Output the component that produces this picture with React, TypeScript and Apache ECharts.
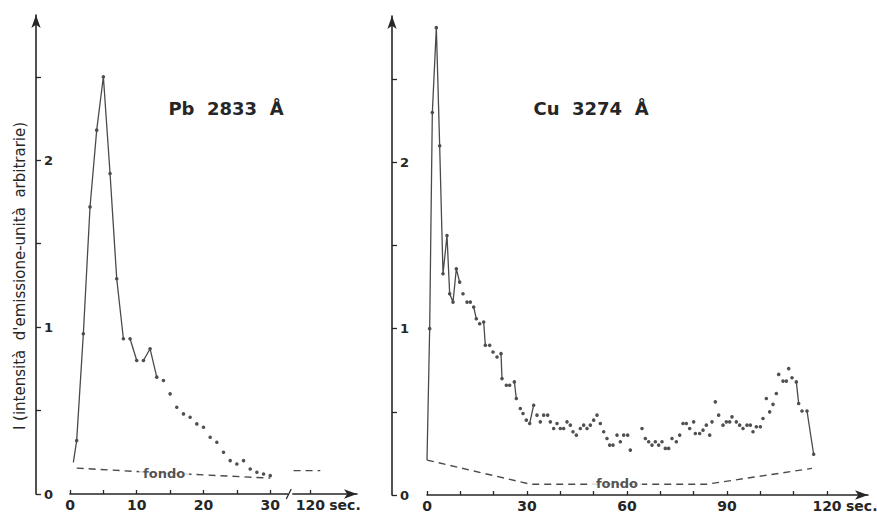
import React, { useEffect, useRef } from "react";
import * as echarts from "echarts";

// ---------- Pb 2833 Å (left panel) ----------
const pbTime = [0.5, 1, 2, 3, 4, 5, 6, 7, 8, 9, 10, 11, 12, 13, 14, 15, 16, 17, 18, 19, 20, 21, 22, 23, 24, 25, 26, 27, 28, 29, 30];
const pbIntensity = [0.19, 0.32, 0.96, 1.72, 2.18, 2.5, 1.92, 1.29, 0.93, 0.93, 0.8, 0.8, 0.87, 0.7, 0.68, 0.6, 0.52, 0.48, 0.46, 0.42, 0.4, 0.34, 0.31, 0.25, 0.2, 0.18, 0.2, 0.15, 0.13, 0.12, 0.11];
const pbJoined = [[0.5, 8], [9, 10], [11, 13]];
const pbFondoTime = [1, 12, 30];
const pbFondoValue = [0.155, 0.13, 0.095];
const pbFondoLateTime = [117.5, 121.5];
const pbFondoLateValue = [0.14, 0.14];
const pbTickSeconds = [0, 5, 10, 15, 20, 25, 30, 120];
const pbLabelSeconds = [0, 10, 20, 30, 120];

// ---------- Cu 3274 Å (right panel) ----------
const cuTime = [0, 0.8, 1.6, 2.8, 3.8, 4.8, 6, 6.8, 7.8, 8.8, 9.8, 10.8,
  12, 13, 14, 14.8, 15.8, 17, 17.5, 18.8, 19.8, 21,
  22.2, 22.5, 23.8, 24.8, 26.2, 26.8, 28, 28.8, 29.8, 30.8,
  32, 33, 34, 35, 36.2, 37, 38, 39, 40, 41,
  42, 43, 43.8, 44.8, 46, 47, 48, 49, 50, 51,
  52, 53, 54, 54.8, 55.8, 57, 58, 59, 60.2, 61,
  64.5, 65.5, 66.5, 67.5, 68.5, 69.5, 70.5, 71.5, 72.5, 73.5,
  74.8, 75.8, 76.8, 77.8, 78.8, 80, 80.5, 81.8, 82.8, 83.8,
  84.8, 85.5, 86.5, 87.5, 88.8, 89.8, 90.8, 91.5, 92.8, 93.8,
  94.8, 96, 97, 97.8, 98.8, 100, 100.8, 101.8, 102.8, 103.8,
  104.8, 105.5, 106.8, 107.8, 108.5, 109.5, 110.8, 111.5, 112.5, 114,
  116];
const cuIntensity = [0.21, 1.0, 2.3, 2.81, 2.1, 1.33, 1.56, 1.21, 1.16, 1.36, 1.28, 1.21,
  1.16, 1.16, 1.13, 1.06, 1.03, 1.04, 0.9, 0.9, 0.86, 0.83,
  0.85, 0.7, 0.66, 0.66, 0.68, 0.58, 0.52, 0.49, 0.45, 0.43,
  0.54, 0.48, 0.44, 0.48, 0.48, 0.44, 0.4, 0.43, 0.4, 0.4,
  0.44, 0.42, 0.38, 0.36, 0.4, 0.42, 0.4, 0.42, 0.45, 0.48,
  0.43, 0.38, 0.34, 0.3, 0.3, 0.36, 0.32, 0.36, 0.36, 0.27,
  0.4, 0.34, 0.32, 0.3, 0.32, 0.3, 0.32, 0.28, 0.28, 0.34,
  0.32, 0.36, 0.43, 0.43, 0.4, 0.44, 0.37, 0.37, 0.39, 0.42,
  0.36, 0.44, 0.56, 0.48, 0.42, 0.44, 0.44, 0.47, 0.44, 0.42,
  0.4, 0.42, 0.42, 0.38, 0.41, 0.41, 0.46, 0.58, 0.5, 0.545,
  0.61, 0.725, 0.685, 0.685, 0.76, 0.705, 0.68, 0.55, 0.505, 0.505,
  0.245];
const cuJoined = [[0, 9.8], [14, 14.8], [17, 17.5], [22.2, 22.5], [26.2, 26.8], [30.8, 32], [110.8, 111.5], [114, 116]];
const cuFondoTime = [0, 31, 84, 115.5];
const cuFondoValue = [0.21, 0.065, 0.065, 0.16];
const cuTickSeconds = [0, 10, 20, 30, 40, 50, 60, 70, 80, 90, 100, 110, 120];
const cuLabelSeconds = [0, 30, 60, 90, 120];

const yTicks = [0, 0.5, 1, 1.5, 2, 2.5];
const yLabels = [0, 1, 2];

// Left time axis is broken after 30 s: 120 s is drawn at axis position 36.
const BREAK_SHIFT = 84;
const leftPos = (t: number) => (t > 31 ? t - BREAK_SHIFT : t);
const leftSec = (p: number) => (p > 31 ? p + BREAK_SHIFT : p);

const INK = "#262626";
const LINE = "#4a4a4a";
const FONT = "'DejaVu Sans', 'Liberation Sans', sans-serif";

function pairs(ts: number[], vs: number[], map = (t: number) => t) {
  return ts.map((t, i) => [map(t), vs[i]]);
}

function joinedSeries(ts: number[], vs: number[], ranges: number[][], gi: number, map = (t: number) => t) {
  return ranges.map(([a, b]) => ({
    type: "line",
    xAxisIndex: gi,
    yAxisIndex: gi,
    showSymbol: false,
    silent: true,
    lineStyle: { color: LINE, width: 1.3 },
    data: pairs(ts, vs, map).filter((_, i) => ts[i] >= a && ts[i] <= b),
  }));
}

function fondoSeries(data: number[][], gi: number) {
  return {
    type: "line",
    xAxisIndex: gi,
    yAxisIndex: gi,
    showSymbol: false,
    silent: true,
    lineStyle: { color: LINE, width: 1.4, type: [7, 5] },
    data,
  };
}

function xAxisCfg(gi: number, max: number, ticks: number[], labels: number[], fmt: (v: number) => string) {
  return {
    type: "value",
    gridIndex: gi,
    min: 0,
    max,
    axisLine: { show: true, onZero: false, symbol: ["none", "arrow"], symbolSize: [7, 13], lineStyle: { color: INK, width: 1.6 } },
    axisTick: { show: true, inside: true, length: 4, customValues: ticks, lineStyle: { color: INK, width: 1.3 } },
    axisLabel: { show: true, customValues: labels, formatter: fmt, margin: 4, color: INK, fontSize: 14, fontWeight: "bold", fontFamily: FONT },
    splitLine: { show: false },
  };
}

function yAxisCfg(gi: number, max: number, offset: number) {
  return {
    type: "value",
    gridIndex: gi,
    min: 0,
    max,
    offset,
    axisLine: { show: true, onZero: false, symbol: ["none", "arrow"], symbolSize: [7, 13], lineStyle: { color: INK, width: 1.6 } },
    axisTick: { show: true, inside: true, length: 5, customValues: yTicks, lineStyle: { color: INK, width: 1.3 } },
    axisLabel: { show: true, inside: true, customValues: yLabels, margin: 8, color: INK, fontSize: 13, fontWeight: "bold", fontFamily: FONT },
    splitLine: { show: false },
  };
}

export default function App() {
  const ref = useRef<HTMLDivElement>(null);

  useEffect(() => {
    if (!ref.current) return;
    const chart = echarts.init(ref.current, null, { renderer: "svg" });

    const pbPoints = pairs(pbTime, pbIntensity).filter((p) => p[0] >= 1);
    const cuPoints = pairs(cuTime, cuIntensity).filter((p) => p[0] > 0);

    const fondoLabel = (gi: number, pos: number[]) => ({
      type: "scatter",
      xAxisIndex: gi,
      yAxisIndex: gi,
      symbolSize: 0,
      silent: true,
      z: 5,
      label: {
        show: true,
        position: "inside",
        formatter: "fondo",
        color: INK,
        fontSize: 13,
        fontWeight: "bold",
        fontFamily: FONT,
        backgroundColor: "#ffffff",
        padding: [0, 4],
      },
      data: [pos],
    });

    chart.setOption({
      animation: false,
      backgroundColor: "#ffffff",
      grid: [
        { left: 70, top: 15, width: 287, bottom: 21 },
        { left: 427, top: 16, width: 441, bottom: 20 },
      ],
      xAxis: [
        xAxisCfg(0, 43, pbTickSeconds.map(leftPos), pbLabelSeconds.map(leftPos), (v: number) => String(Math.round(leftSec(v)))),
        xAxisCfg(1, 132.3, cuTickSeconds, cuLabelSeconds, (v: number) => String(v)),
      ],
      yAxis: [yAxisCfg(0, 2.87, 34), yAxisCfg(1, 2.88, 35)],
      series: [
        ...joinedSeries(pbTime, pbIntensity, pbJoined, 0),
        {
          type: "scatter", xAxisIndex: 0, yAxisIndex: 0, symbol: "circle", symbolSize: 3.6, silent: true,
          itemStyle: { color: INK }, data: pbPoints,
        },
        fondoSeries(pairs(pbFondoTime, pbFondoValue), 0),
        fondoSeries(pairs(pbFondoLateTime, pbFondoLateValue, leftPos), 0),
        fondoLabel(0, [14.1, 0.12]),
        ...joinedSeries(cuTime, cuIntensity, cuJoined, 1),
        {
          type: "scatter", xAxisIndex: 1, yAxisIndex: 1, symbol: "circle", symbolSize: 3.6, silent: true,
          itemStyle: { color: INK }, data: cuPoints,
        },
        fondoSeries(pairs(cuFondoTime, cuFondoValue), 1),
        fondoLabel(1, [57, 0.07]),
      ],
    });

    // annotations positioned through the axes
    const brk = chart.convertToPixel({ xAxisIndex: 0, yAxisIndex: 0 }, [33, 0]) as number[];
    const sec0 = chart.convertToPixel({ xAxisIndex: 0, yAxisIndex: 0 }, [leftPos(120), 0]) as number[];
    const sec1 = chart.convertToPixel({ xAxisIndex: 1, yAxisIndex: 1 }, [120, 0]) as number[];
    const textStyle = { fill: INK, fontFamily: FONT, fontWeight: "bold" };

    chart.setOption({
      graphic: [
        { type: "rect", shape: { x: brk[0] - 2, y: brk[1] - 3, width: 4, height: 6 }, style: { fill: "#ffffff" }, z: 100 },
        { type: "line", shape: { x1: brk[0] - 4, y1: brk[1] + 5, x2: brk[0] + 1, y2: brk[1] - 5 }, style: { stroke: INK, lineWidth: 1.3 }, z: 101 },
        { type: "text", x: sec0[0] + 19, y: sec0[1] + 11, style: { ...textStyle, text: "sec.", fontSize: 14, textAlign: "left", textVerticalAlign: "middle" }, z: 101 },
        { type: "text", x: sec1[0] + 19, y: sec1[1] + 11, style: { ...textStyle, text: "sec.", fontSize: 14, textAlign: "left", textVerticalAlign: "middle" }, z: 101 },
        { type: "text", x: 226, y: 108, style: { ...textStyle, text: "Pb  2833  Å", fontSize: 18, textAlign: "center", textVerticalAlign: "middle" } },
        { type: "text", x: 591, y: 108, style: { ...textStyle, text: "Cu  3274  Å", fontSize: 18, textAlign: "center", textVerticalAlign: "middle" } },
        {
          type: "text", x: 20, y: 276, rotation: Math.PI / 2,
          style: { fill: INK, fontFamily: FONT, text: "I (intensità  d'emissione-unità  arbitrarie)", fontSize: 15, textAlign: "center", textVerticalAlign: "middle" },
        },
      ],
    });

    return () => chart.dispose();
  }, []);

  return (
    <div
      ref={ref}
      style={{ position: "fixed", left: 0, top: 0, width: 877, height: 515, background: "#fff" }}
    />
  );
}
